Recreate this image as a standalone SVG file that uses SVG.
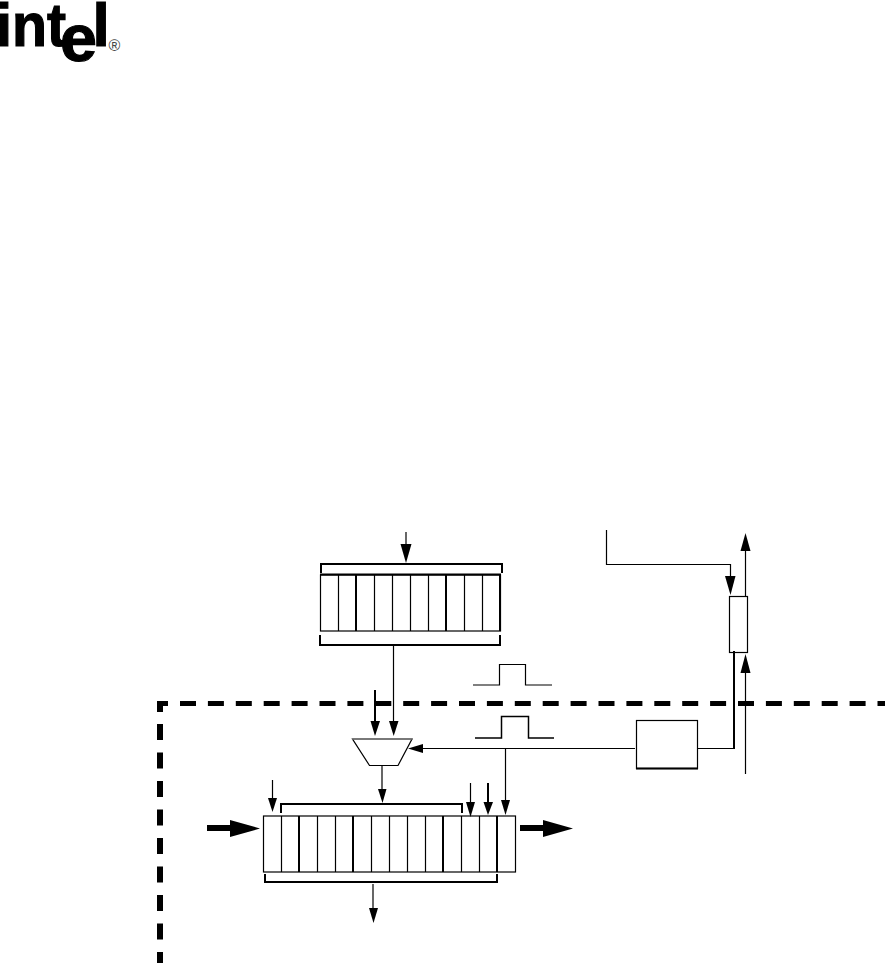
<svg xmlns="http://www.w3.org/2000/svg" width="885" height="963" viewBox="0 0 885 963">
<defs>
<style>
.t{fill:none;stroke:#000;stroke-width:1.2}
.m{fill:none;stroke:#000;stroke-width:2}
.c{fill:#fff;stroke:#000;stroke-width:1.2}
.d{fill:none;stroke:#000}
.l{font-family:"Liberation Sans",Arial,sans-serif;font-weight:700;fill:#000;stroke:#000;stroke-width:1.200}
</style>
</defs>
<rect width="885" height="963" fill="#fff"/>
<g id="logo">
<text class="l" x="-4" y="46" font-size="62" textLength="70" lengthAdjust="spacingAndGlyphs">int</text>
<text class="l" x="60" y="61" font-size="66" textLength="37" lengthAdjust="spacingAndGlyphs">e</text>
<text class="l" x="92.500" y="46" font-size="62">l</text>
<text x="108.500" y="51" font-family="Liberation Sans,sans-serif" font-size="16" fill="#444">®</text>
</g>
<g id="boundary">
<path class="d" style="stroke-width:5;stroke-dasharray:16 11.900" d="M180 703.500H886"/>
<path class="d" style="stroke-width:6;stroke-dasharray:16 12.500" d="M160 724V963"/>
<path d="M157 701H168V706H163V712H157Z"/>
</g>
<g id="upper-register">
<rect class="c" x="320.500" y="575" width="180" height="56"/>
<path class="t" d="M338.500 575V631M374.500 575V631M392.500 575V631M410.500 575V631M428.500 575V631M464.500 575V631M482.500 575V631"/>
<path class="m" d="M320 574.500H501M356 575V631M446 575V631M500 575V631"/>
<path class="m" d="M321 573V564H502V573"/>
<path class="m" d="M320 635V645H500V635"/>
</g>
<g id="pulse-upper"><path class="t" d="M473 685H499.500V664.500H525.500V685H552"/></g>
<g id="pulse-lower"><path class="t" style="stroke-width:1.500" d="M475 738H501.500V716.500H528.500V738H554"/></g>
<g id="mux">
<path class="c" d="M352.500 739H412L398 765.500H369.500Z"/>
<path d="M352 739H412.500" fill="none" stroke="#777" stroke-width="1.500"/>
</g>
<g id="lower-register">
<rect class="c" x="263.500" y="816" width="252" height="56"/>
<path class="t" d="M281.500 816V872M317.500 816V872M335.500 816V872M371.500 816V872M389.500 816V872M407.500 816V872M425.500 816V872M461.500 816V872M479.500 816V872"/>
<path class="m" d="M299 816V872M353 816V872M443 816V872M497 816V872"/>
<path class="m" d="M281 813V804H462V813"/>
<path class="m" d="M265 874V882H497V874"/>
</g>
<g id="latch"><rect class="c" x="729.500" y="596.500" width="18" height="56"/></g>
<g id="control-box">
<rect class="c" x="636.500" y="720.500" width="61" height="48"/>
<path class="m" d="M636 768.500H698"/>
</g>
<g id="connectors">
<path class="t" d="M406 532V548"/><path d="M400.500 544H411.500L406 563Z"/>
<path class="t" d="M393.500 645V725"/><path d="M389 721H398.500L393.700 736Z"/>
<path class="m" d="M375 690V725"/><path d="M370.500 721H380L375 736Z"/>
<path class="t" d="M382 765V792"/><path d="M378 789H386.500L382.500 803Z"/>
<path class="t" d="M635 748.500H420"/><path d="M423 744V753L408 748.500Z"/>
<path class="t" d="M505.500 748V803"/><path d="M501 800H510L505.500 815Z"/>
<path class="t" d="M470.500 783V805"/><path d="M466 802H475L470.500 817Z"/>
<path class="m" d="M488 783V805"/><path d="M483.500 802H493L488 815Z"/>
<path class="t" d="M272.500 780V801"/><path d="M268 798H277L272.500 812Z"/>
<path class="t" d="M373 884V912"/><path d="M369 908H378L373.500 923Z"/>
<path d="M207 825H230V820L260 828.500 230 837V831H207Z"/>
<path d="M520 825H543V820L573 828.500 543 837V831H520Z"/>
<path class="t" d="M606.500 530V564.500H730.500V580"/><path d="M725 576H735.500L730.500 595Z"/>
<path class="t" d="M745.500 596V548"/><path d="M740.500 551H750.500L745.500 533Z"/>
<path class="t" d="M745.500 774V670"/><path d="M740.500 673H750.500L745.500 654Z"/>
<path class="t" d="M698 748.500H734"/>
<path class="m" d="M734 651V749"/>
</g>
</svg>
